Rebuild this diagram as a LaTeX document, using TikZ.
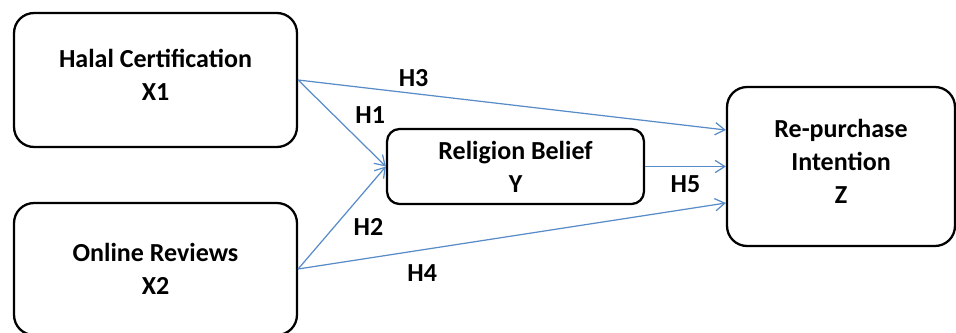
\documentclass[tikz,border=0pt]{standalone}
\usepackage{fontspec}
\setmainfont{Carlito}
\usepackage{tikz}
\usetikzlibrary{arrows.meta, positioning}
\definecolor{linkblue}{RGB}{88,140,200}

\begin{document}
\begin{tikzpicture}[
    x=0.02cm, y=-0.02cm,
    every node/.style={align=center, font=\bfseries\fontsize{14.8}{18.8}\selectfont},
    box/.style={draw, rounded corners=0.4cm, line width=1.3pt},
    link/.style={->, draw=linkblue, line width=0.7pt},
    >={Straight Barb[length=5.5pt, width=7pt]}
]
\useasboundingbox (0,0) rectangle (956,332);
\node[box, minimum width=5.66cm, minimum height=2.68cm, text depth=0.2cm] (x1) at (155.5,80) {Halal Certification\\X1};
\node[box, minimum width=5.66cm, minimum height=2.64cm] (x2) at (155.5,269) {Online Reviews\\X2};
\node[box, rounded corners=0.25cm, minimum width=5.14cm, minimum height=1.5cm] (y) at (515.5,166.5) {Religion Belief\\Y};
\node[box, minimum width=4.56cm, minimum height=3.18cm, text depth=0.22cm] (z) at (841,166.5) {Re-purchase\\Intention\\Z};

\draw[link] (x1.east) -- node[above, pos=0.27] {H3} ([yshift=0.73cm]z.west);
\draw[link] (x1.east) -- node[pos=0.58, anchor=south west] {H1} (y.west);
\draw[link] (x2.east) -- node[pos=0.56, anchor=north west] {H2} (y.west);
\draw[link] (x2.east) -- node[below=5pt, pos=0.29] {H4} ([yshift=-0.73cm]z.west);
\draw[link] (y) -- node[below=1.5pt] {H5} (z);
\end{tikzpicture}
\end{document}
